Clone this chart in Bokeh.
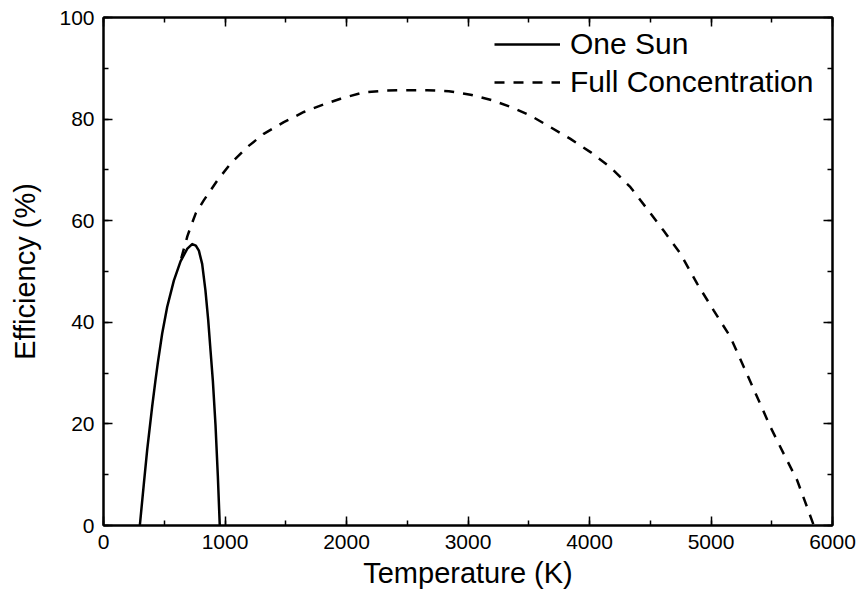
from bokeh.plotting import figure
from bokeh.models import LinearAxis, Legend, LegendItem, SingleIntervalTicker, CustomJSTickFormatter
from bokeh.embed import file_html
from bokeh.resources import INLINE

# One Sun
one_sun_T = [299, 332, 360, 401, 428, 447, 483, 524, 579, 634, 690, 730, 760, 785, 812,
             839, 862, 881, 900, 922, 941, 957]
one_sun_eff = [0, 8.2, 15.0, 23.5, 28.6, 32.0, 37.8, 43.0, 48.2, 52.0, 54.5, 55.4, 55.1, 54.1, 51.5,
               46.3, 40.4, 34.4, 28.5, 19.7, 9.8, 0]

# Full Concentration
full_T = [640, 690, 716, 760, 825, 936, 1045, 1183, 1319, 1484, 1649, 1813, 1951, 2129, 2307,
          2485, 2664, 2842, 3020, 3199, 3363, 3514, 3679, 3843, 4008, 4173, 4337, 4475, 4611,
          4749, 4886, 5023, 5160, 5270, 5380, 5489, 5599, 5709, 5791, 5846]
full_eff = [52.6, 56.9, 58.7, 61.5, 64.0, 67.9, 71.2, 74.5, 77.1, 79.4, 81.4, 82.9, 84.0, 85.2, 85.6,
            85.7, 85.7, 85.5, 84.8, 83.7, 82.3, 80.7, 78.4, 76.1, 73.5, 70.5, 66.6, 62.3, 58.0,
            53.5, 47.6, 42.3, 37.1, 31.2, 25.3, 19.4, 14.1, 8.9, 3.6, 0]

x_label = "Temperature (K)"
y_label = "Efficiency (%)"
series_names = ["One Sun", "Full Concentration"]

FONT = "Liberation Sans"

p = figure(width=861, height=597, output_backend="svg", toolbar_location=None,
           x_range=(0, 6000), y_range=(0, 100),
           min_border_left=103, min_border_right=29, min_border_top=17, min_border_bottom=72)
p.xgrid.visible = False
p.ygrid.visible = False
p.outline_line_color = "black"
p.outline_line_width = 2
p.background_fill_color = "white"
p.border_fill_color = "white"

r1 = p.line(one_sun_T, one_sun_eff, line_color="black", line_width=2.5, line_join="round")
r2 = p.line(full_T, full_eff, line_color="black", line_width=2.5, line_dash="10 9")

def style_axis(ax, labels=True):
    ax.major_tick_in = 9
    ax.major_tick_out = 0
    ax.minor_tick_in = 5
    ax.minor_tick_out = 0
    ax.axis_line_width = 2
    ax.major_tick_line_width = 1.5
    ax.minor_tick_line_width = 1.5
    ax.axis_line_color = "black"
    ax.major_tick_line_color = "black"
    ax.minor_tick_line_color = "black"
    ax.major_label_text_font = FONT
    ax.major_label_text_color = "black"
    ax.axis_label_text_font = FONT
    ax.axis_label_text_font_style = "normal"
    ax.axis_label_text_color = "black"
    if not labels:
        ax.formatter = CustomJSTickFormatter(code="return ''")
        ax.major_label_standoff = 0

xt = SingleIntervalTicker(interval=1000, num_minor_ticks=2)
yt = SingleIntervalTicker(interval=20, num_minor_ticks=2)

p.xaxis.ticker = xt
p.yaxis.ticker = yt
for ax in p.xaxis + p.yaxis:
    style_axis(ax)
    ax.major_label_text_font_size = "21px"
    ax.axis_label_text_font_size = "29px"
    ax.major_label_standoff = 9
p.xaxis.axis_label = x_label
p.yaxis.axis_label = y_label
p.xaxis.axis_label_standoff = 5
p.yaxis.axis_label_standoff = 15

top = LinearAxis(ticker=SingleIntervalTicker(interval=1000, num_minor_ticks=2))
right = LinearAxis(ticker=SingleIntervalTicker(interval=20, num_minor_ticks=2))
style_axis(top, labels=False)
style_axis(right, labels=False)
p.add_layout(top, "above")
p.add_layout(right, "right")

legend = Legend(items=[LegendItem(label=series_names[0], renderers=[r1]),
                       LegendItem(label=series_names[1], renderers=[r2])],
                location="top_right")
legend.border_line_color = None
legend.background_fill_alpha = 0
legend.label_text_font = FONT
legend.label_text_font_size = "30px"
legend.label_text_color = "black"
legend.glyph_width = 66
legend.glyph_height = 30
legend.label_height = 30
legend.label_width = 252
legend.spacing = 4
legend.padding = 12
legend.margin = 10
legend.label_standoff = 10
p.add_layout(legend)

open("out.html", "w").write(file_html(p, INLINE))
